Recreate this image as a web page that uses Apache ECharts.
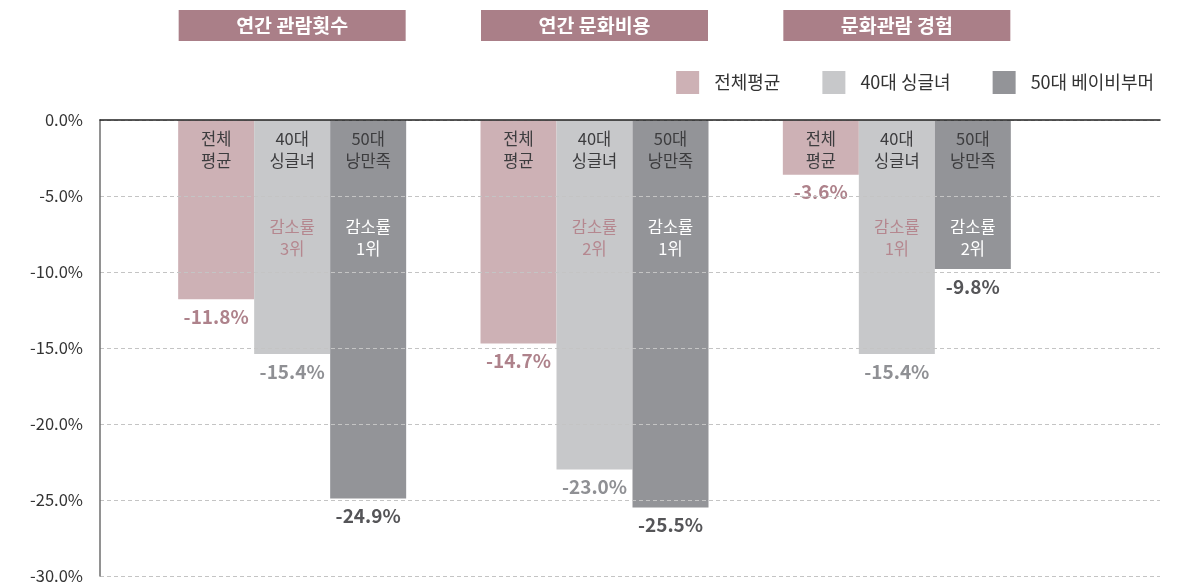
<!DOCTYPE html>
<html style="height: 100%">
<head>
    <meta charset="utf-8">
</head>
<body style="height: 100%; margin: 0; background: #fff">
<div id="container" style="width: 1192px; height: 587px"></div>
<script type="text/javascript" src="https://cdn.jsdelivr.net/npm/echarts@6/dist/echarts.min.js"></script>
<script type="text/javascript">
var dom = document.getElementById("container");
var myChart = echarts.init(dom);

// 데이터
var groups = ['연간 관람횟수', '연간 문화비용', '문화관람 경험'];
var seriesNames = ['전체평균', '40대 싱글녀', '50대 베이비부머'];
var barTags = ['전체\n평균', '40대\n싱글녀', '50대\n낭만족'];
var avgValues = [-11.8, -14.7, -3.6];
var single40Values = [-15.4, -23.0, -15.4];
var boomer50Values = [-24.9, -25.5, -9.8];
var single40Rank = [3, 2, 1];
var boomer50Rank = [1, 1, 2];
var yMin = -30, yMax = 0, yStep = 5;

var colors = ['#cdb1b5', '#c7c8ca', '#939498'];
var valueColors = ['#ae828b', '#8f9094', '#555558'];
var rankColors = [null, '#b5878f', '#ffffff'];
var headerColor = '#aa7f88';
var font = "'Noto Sans CJK KR', sans-serif";

var allValues = [avgValues, single40Values, boomer50Values];
var allRanks = [null, single40Rank, boomer50Rank];

var series = [];
for (var i = 0; i < 3; i++) {
    (function (i) {
        // 본 막대 + 하단 값 라벨
        series.push({
            name: seriesNames[i],
            type: 'bar',
            xAxisIndex: 1,
            yAxisIndex: 1,
            data: allValues[i],
            barWidth: 76,
            barGap: '0%',
            itemStyle: { color: colors[i] },
            label: {
                show: true,
                position: 'bottom',
                distance: 8,
                fontFamily: font,
                fontSize: 19,
                fontWeight: 'bold',
                color: valueColors[i],
                formatter: function (p) { return p.value.toFixed(1) + '%'; }
            },
            animation: false
        });
        // 막대 안쪽 글자 (이름 + 감소률 순위)
        series.push({
            name: 'tag' + i,
            type: 'bar',
            xAxisIndex: 2,
            yAxisIndex: 1,
            data: allValues[i],
            barWidth: 76,
            barGap: '0%',
            itemStyle: { color: 'rgba(0,0,0,0)' },
            z: 5,
            label: {
                show: true,
                position: 'insideTop',
                distance: 8,
                lineHeight: 22,
                formatter: function (p) {
                    var tag = barTags[i].split('\n');
                    var s = '{t|' + tag[0] + '}\n{t|' + tag[1] + '}';
                    if (allRanks[i]) {
                        s += '\n\n\n{r|감소률}\n{r|' + allRanks[i][p.dataIndex] + '위}';
                    }
                    return s;
                },
                rich: {
                    t: { fontFamily: font, fontSize: 16.5, color: '#3c3c3e', lineHeight: 22 },
                    r: { fontFamily: font, fontSize: 16.5, color: rankColors[i] || '#fff', lineHeight: 22 }
                }
            },
            animation: false
        });
    })(i);
}

option = {
    backgroundColor: '#ffffff',
    legend: {
        data: seriesNames,
        right: 33,
        top: 66,
        itemWidth: 23,
        itemHeight: 23,
        itemGap: 42,
        icon: 'rect',
        textStyle: {
            fontFamily: font,
            fontSize: 18,
            color: '#333',
            padding: [0, 0, 0, 10]
        }
    },
    grid: [
        { left: 100, right: 32, top: 120, bottom: 11 },
        { left: 141, width: 907, top: 120, bottom: 11 }
    ],
    xAxis: [
        {
            type: 'category',
            gridIndex: 0,
            position: 'top',
            data: groups,
            z: 6,
            axisLine: { lineStyle: { color: '#222', width: 1.5 } },
            axisTick: { show: false },
            axisLabel: { show: false },
            splitLine: { show: false }
        },
        {
            type: 'category',
            gridIndex: 1,
            position: 'top',
            data: groups,
            axisLine: { show: false },
            axisTick: { show: false },
            axisLabel: {
                margin: 79,
                fontFamily: font,
                fontSize: 19.5,
                fontWeight: 'bold',
                color: '#fff',
                backgroundColor: headerColor,
                width: 227,
                height: 31,
                lineHeight: 31,
                align: 'center'
            }
        },
        {
            type: 'category',
            gridIndex: 1,
            position: 'top',
            data: groups,
            show: false
        }
    ],
    yAxis: [
        {
            type: 'value',
            gridIndex: 0,
            min: yMin,
            max: yMax,
            interval: yStep,
            z: 6,
            axisLine: { show: true, lineStyle: { color: '#6e6e6e', width: 1.5 } },
            axisTick: { show: false },
            axisLabel: {
                margin: 17,
                fontFamily: font,
                fontSize: 16.5,
                color: '#333',
                formatter: function (v) { return v.toFixed(1) + '%'; }
            },
            splitLine: {
                show: true,
                lineStyle: { color: '#c4c4c4', type: [4, 3], width: 1 }
            }
        },
        {
            type: 'value',
            gridIndex: 1,
            min: yMin,
            max: yMax,
            interval: yStep,
            show: false,
            splitLine: { show: false }
        }
    ],
    series: series
};

myChart.setOption(option);
</script>
</body>
</html>
